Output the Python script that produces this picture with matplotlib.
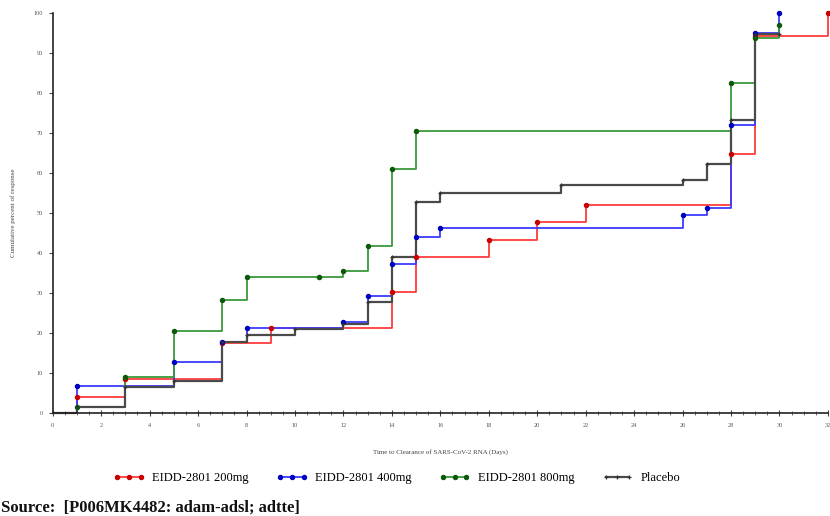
import matplotlib
matplotlib.use("Agg")
import matplotlib.pyplot as plt
from matplotlib.ticker import MultipleLocator

# Cumulative response (%) by time to clearance (days), step points per arm
days_200 = [0, 1, 3, 7, 9, 14, 15, 18, 20, 22, 28, 29, 32]
resp_200 = [0, 4.1, 8.5, 17.4, 21.2, 30.3, 39.0, 43.3, 47.8, 52.0, 64.8, 94.2, 100]

days_400 = [0, 1, 5, 7, 8, 12, 13, 14, 15, 16, 26, 27, 28, 29, 30]
resp_400 = [0, 6.7, 12.8, 17.8, 21.2, 22.8, 29.2, 37.3, 44.0, 46.2, 49.5, 51.2, 72.0, 95.0, 100]

days_800 = [0, 1, 3, 5, 7, 8, 12, 13, 14, 15, 28, 29, 30]
resp_800 = [0, 1.6, 9.1, 20.5, 28.3, 34.0, 35.5, 41.7, 61.0, 70.6, 82.4, 93.7, 97.0]
cens_800_day = [11]
cens_800_resp = [34.0]

days_pbo = [0, 1, 3, 5, 7, 8, 10, 12, 13, 14, 15, 16, 21, 26, 27, 28, 29, 30]
resp_pbo = [0, 1.4, 6.6, 8.0, 17.8, 19.5, 21.0, 22.2, 27.8, 39.0, 52.8, 54.9, 57.0, 58.3, 62.3, 73.3, 94.9, 94.9]

labels = ["EIDD-2801 200mg", "EIDD-2801 400mg", "EIDD-2801 800mg", "Placebo"]
x_ticks = list(range(0, 33, 2))
y_ticks = list(range(0, 101, 10))

plt.rcParams["font.family"] = ["Liberation Serif", "DejaVu Serif"]

fig = plt.figure(figsize=(8.3, 5.16), dpi=100)
ax = fig.add_axes([0.0635, 0.1996, 0.934, 0.775])

series = [
    (days_200, resp_200, "#ff3b3b", "#c80000", "o", 1.3, 3.0),
    (days_400, resp_400, "#3b3bff", "#0000c0", "o", 1.3, 3.0),
    (days_800, resp_800, "#3a9a3a", "#0a5a0a", "o", 1.3, 3.0),
    (days_pbo, resp_pbo, "#4a4a4a", "#333333", "+", 1.6, 3.0),
]

handles = []
for (d, r, lc, mc, mk, lw, ms), lab in zip(series, labels):
    ax.step(d, r, where="post", color=lc, lw=lw, zorder=2, clip_on=False)
    ax.plot(d[1:], r[1:], ls="none", marker=mk, ms=ms,
            mfc=mc, mec=mc, mew=0.9, zorder=3, clip_on=False)
    h, = ax.plot([], [], color=lc, lw=lw, marker=mk, ms=ms,
                 mfc=mc, mec=mc, mew=0.9)
    handles.append(h)

ax.plot(cens_800_day, cens_800_resp, ls="none", marker="o", ms=3.0,
        mfc="#0a5a0a", mec="#0a5a0a", zorder=3)

ax.set_xlim(0, 32)
ax.set_ylim(0, 100)
ax.set_xticks(x_ticks)
ax.set_xticklabels([str(t) for t in x_ticks])
ax.xaxis.set_minor_locator(MultipleLocator(0.5))
ax.set_yticks(y_ticks)
ax.set_yticklabels([str(t) for t in y_ticks])

for side in ("top", "right"):
    ax.spines[side].set_visible(False)
for side in ("left", "bottom"):
    ax.spines[side].set_linewidth(1.2)
    ax.spines[side].set_color("#222222")

ax.tick_params(axis="x", which="major", direction="inout", length=5, width=0.8,
               labelsize=4.5, labelcolor="#555555", color="#444444", pad=5)
ax.tick_params(axis="x", which="minor", direction="inout", length=3, width=0.6,
               color="#555555")
ax.tick_params(axis="y", which="major", direction="out", length=3, width=0.8,
               labelsize=4.5, labelcolor="#555555", color="#444444", pad=4)

ax.set_xlabel("Time to Clearance of SARS-CoV-2 RNA (Days)", fontsize=5,
              color="#444444", labelpad=15)
ax.set_ylabel("Cumulative percent of response", fontsize=5, color="#444444",
              labelpad=13)

fig.legend(handles, labels, loc="center", bbox_to_anchor=(0.478, 0.0736),
           ncol=4, frameon=False, numpoints=3, fontsize=9, handlelength=2.5,
           handletextpad=0.6, columnspacing=2.2)

fig.text(0.001, 1 - 508 / 516, "Source:  [P006MK4482: adam-adsl; adtte]",
         fontsize=12, fontweight="bold", va="center", ha="left", color="#111111")

fig.savefig("out.png", dpi=100)
